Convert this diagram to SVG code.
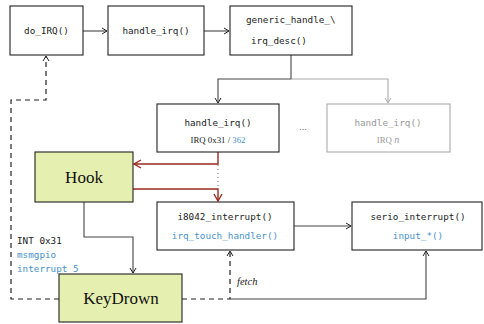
<svg xmlns="http://www.w3.org/2000/svg" width="484" height="324" viewBox="0 0 484 324">
<style>
.box{fill:#fff;stroke:#222;stroke-width:1.1}
.gbox{fill:#fff;stroke:#aaa;stroke-width:1.1}
.hk{fill:#e5f0b0;stroke:#222;stroke-width:1.1}
.m{font-family:"DejaVu Sans Mono",monospace;font-size:9.3px;fill:#222}
.b{fill:#4a92cc}
.g{fill:#999}
.s{font-family:"Liberation Serif",serif;font-size:8.8px;fill:#222}
.big{font-family:"Liberation Serif",serif;font-size:17px;fill:#111}
.ln{fill:none;stroke:#444;stroke-width:1.1}
.gl{fill:none;stroke:#aaa;stroke-width:1.1}
.rl{fill:none;stroke:#9b2a1e;stroke-width:1.4}
.dl{fill:none;stroke:#222;stroke-width:1.2;stroke-dasharray:5 4}
</style>
<defs>
<marker id="a" viewBox="0 0 8 8" refX="7" refY="4" markerWidth="8" markerHeight="8" markerUnits="userSpaceOnUse" orient="auto"><path d="M2,1 L7,4 L2,7" fill="none" stroke="#222" stroke-width="1"/></marker>
<marker id="ag" viewBox="0 0 8 8" refX="7" refY="4" markerWidth="8" markerHeight="8" markerUnits="userSpaceOnUse" orient="auto"><path d="M2,1 L7,4 L2,7" fill="none" stroke="#aaa" stroke-width="1"/></marker>
<marker id="ar" viewBox="0 0 10 10" refX="9" refY="5" markerWidth="10" markerHeight="10" markerUnits="userSpaceOnUse" orient="auto"><path d="M2,1 L9,5 L2,9" fill="none" stroke="#9b2a1e" stroke-width="1.4"/></marker>
</defs>
<g id="connectors">
<path class="ln" d="M83,31 H107" marker-end="url(#a)"/>
<path class="ln" d="M204,31 H229" marker-end="url(#a)"/>
<path class="ln" d="M291,55 V79 H218 V103" marker-end="url(#a)"/>
<path class="gl" d="M291,79 H388 V103" marker-end="url(#ag)"/>
<path class="rl" d="M218,152 V164 H134" marker-end="url(#ar)"/>
<path fill="none" stroke="#666" stroke-width="1" stroke-dasharray="1 3" d="M218,165 V188"/>
<path class="rl" d="M133,189 H218 V201" marker-end="url(#ar)"/>
<path class="ln" d="M294,226 H351" marker-end="url(#a)"/>
<path class="ln" d="M84,202 V237 H133 V273" marker-end="url(#a)"/>
<path class="dl" d="M59,299 H11 V100 H46 V56" marker-end="url(#a)"/>
<path class="dl" d="M182,299 H230 V251" marker-end="url(#a)"/>
<path class="ln" d="M230,299 H426 V251" marker-end="url(#a)"/>
<text x="237" y="285" font-family="Liberation Serif,serif" font-style="italic" font-size="10.5px" fill="#222">fetch</text>
<text class="m" x="17" y="244">INT 0x31</text>
<text class="m b" x="17" y="258">msmgpio</text>
<text class="m b" x="17" y="272">interrupt 5</text>
</g>
<g id="do_irq"><rect class="box" x="10" y="6" width="73" height="49"/><text class="m" x="46.5" y="34" text-anchor="middle">do_IRQ()</text></g>
<g id="handle_irq_top"><rect class="box" x="108" y="6" width="96" height="49"/><text class="m" x="156" y="34" text-anchor="middle">handle_irq()</text></g>
<g id="generic"><rect class="box" x="230" y="6" width="122" height="49"/><text class="m" x="246" y="23">generic_handle_\</text><text class="m" x="251" y="44">irq_desc()</text></g>
<g id="handle_irq_31"><rect class="box" x="157" y="104" width="122" height="48"/><text class="m" x="218" y="126" text-anchor="middle">handle_irq()</text><text class="s" x="218" y="143" text-anchor="middle">IRQ 0x31 / <tspan fill="#4a92cc">362</tspan></text></g>
<text x="303" y="130" font-family="Liberation Serif,serif" font-size="10px" fill="#777" text-anchor="middle">...</text>
<g id="handle_irq_n"><rect class="gbox" x="327" y="104" width="123" height="48"/><text class="m g" x="388" y="126" text-anchor="middle">handle_irq()</text><text class="s" x="388" y="143" text-anchor="middle" style="fill:#999">IRQ <tspan font-style="italic" font-size="10px">n</tspan></text></g>
<g id="hook"><rect class="hk" x="35" y="152" width="98" height="50"/><text class="big" x="84" y="183" text-anchor="middle">Hook</text></g>
<g id="i8042"><rect class="box" x="157" y="202" width="137" height="48"/><text class="m" x="225" y="220" text-anchor="middle">i8042_interrupt()</text><text class="m b" x="225" y="239" text-anchor="middle">irq_touch_handler()</text></g>
<g id="serio"><rect class="box" x="352" y="202" width="130" height="48"/><text class="m" x="418" y="220" text-anchor="middle">serio_interrupt()</text><text class="m b" x="418" y="239" text-anchor="middle">input_*()</text></g>
<g id="keydrown"><rect class="hk" x="59" y="274" width="123" height="48"/><text class="big" x="121" y="304" text-anchor="middle">KeyDrown</text></g>
</svg>
